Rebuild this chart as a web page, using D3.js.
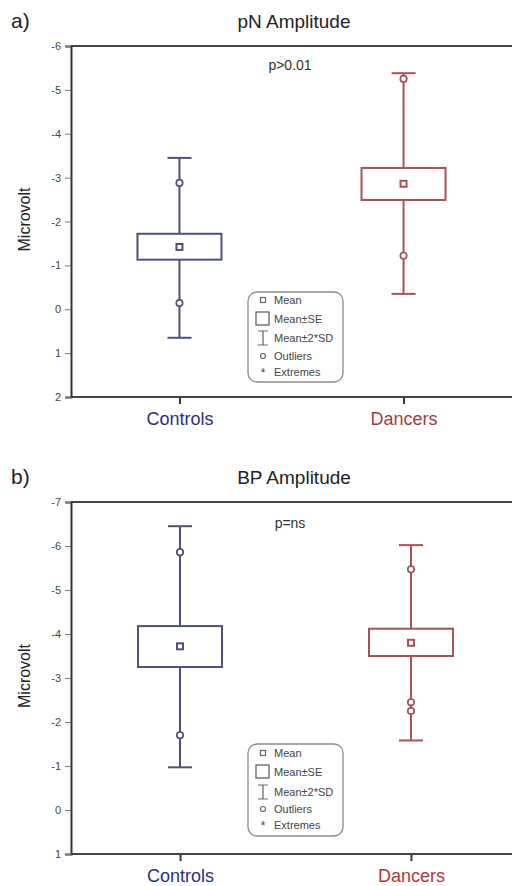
<!DOCTYPE html>
<html>
<head>
<meta charset="utf-8">
<script src="https://cdn.jsdelivr.net/npm/d3@7"></script>
<style>
  body { margin: 0; background: #fff; }
  svg { display: block; font-family: "Liberation Sans", Arial, sans-serif; }
</style>
</head>
<body>
<svg id="chart" width="512" height="886"></svg>
<script>
// Data
const categories = ["Controls", "Dancers"];

// pN amplitude (microvolt): mean, SE bounds, 2*SD bounds, outliers
const pnMean   = [-1.42, -2.86];
const pnSeLow  = [-1.13, -2.49];
const pnSeHigh = [-1.72, -3.22];
const pnSdLow  = [0.65, -0.35];
const pnSdHigh = [-3.45, -5.38];
const pnOutliers = [[-2.88, -0.14], [-5.25, -1.22]];
const pnTicks = [-6, -5, -4, -3, -2, -1, 0, 1, 2];

// BP amplitude (microvolt)
const bpMean   = [-3.72, -3.80];
const bpSeLow  = [-3.25, -3.50];
const bpSeHigh = [-4.18, -4.12];
const bpSdLow  = [-0.97, -1.58];
const bpSdHigh = [-6.45, -6.02];
const bpOutliers = [[-5.86, -1.70], [-5.47, -2.45, -2.25]];
const bpTicks = [-7, -6, -5, -4, -3, -2, -1, 0, 1];

const legendItems = ["Mean", "Mean\u00b1SE", "Mean\u00b12*SD", "Outliers", "Extremes"];

const lineColor = { Controls: "#4f5078", Dancers: "#a55454" };
const labelColor = { Controls: "#2b3080", Dancers: "#a43c3c" };

const svg = d3.select("#chart");

function drawPanel(opt) {
    const g = svg.append("g");
    const left = 71, right = 512;

    const y = d3.scaleLinear()
        .domain([opt.ticks[0], opt.ticks[opt.ticks.length - 1]])
        .range([opt.top, opt.bottom]);

    const x = d3.scalePoint()
        .domain(categories)
        .range([left, opt.xEnd])
        .padding(opt.xPad);

    // Panel letter and title
    g.append("text")
        .attr("x", 11).attr("y", opt.top - 18)
        .style("font-size", "21px").style("fill", "#222")
        .text(opt.letter);
    g.append("text")
        .attr("x", 294).attr("y", opt.top - 18)
        .attr("text-anchor", "middle")
        .style("font-size", "19px").style("fill", "#222")
        .text(opt.title);

    // Axes frame: top, bottom and left lines
    g.append("line")
        .attr("x1", left).attr("x2", right)
        .attr("y1", opt.top).attr("y2", opt.top)
        .style("stroke", "#444").style("stroke-width", 2);

    const yAxis = g.append("g")
        .attr("transform", `translate(${left},0)`)
        .call(d3.axisLeft(y).tickValues(opt.ticks).tickSize(6).tickPadding(4).tickFormat(d => String(d)));
    yAxis.select(".domain").style("stroke", "#333").style("stroke-width", 2);
    yAxis.selectAll(".tick line").style("stroke", "#777");
    yAxis.selectAll(".tick text")
        .style("font-size", "11px").style("fill", "#444")
        .style("font-family", "\"Liberation Sans\", Arial, sans-serif");

    const xAxis = g.append("g")
        .attr("transform", `translate(0,${opt.bottom})`)
        .call(d3.axisBottom(x).tickSize(7).tickPadding(8));
    xAxis.select(".domain").remove();
    xAxis.selectAll(".tick line").style("stroke", "#333").style("stroke-width", 2);
    xAxis.selectAll(".tick text")
        .style("font-size", "18px")
        .style("font-family", "\"Liberation Sans\", Arial, sans-serif")
        .style("fill", d => labelColor[d]);
    g.append("line")
        .attr("x1", left).attr("x2", right)
        .attr("y1", opt.bottom).attr("y2", opt.bottom)
        .style("stroke", "#444").style("stroke-width", 2);

    // Y label
    g.append("text")
        .attr("transform", "rotate(-90)")
        .attr("x", -(opt.top + opt.bottom) / 2 + 2)
        .attr("y", 30)
        .attr("text-anchor", "middle")
        .style("font-size", "16px").style("fill", "#222")
        .text("Microvolt");

    // p value
    g.append("text")
        .attr("x", 290).attr("y", y(opt.pAt))
        .attr("text-anchor", "middle")
        .style("font-size", "14px").style("fill", "#333")
        .text(opt.pText);

    const boxW = 84, capW = 24;
    const rows = categories.map((c, i) => ({
        cat: c, mean: opt.mean[i], seLow: opt.seLow[i], seHigh: opt.seHigh[i],
        sdLow: opt.sdLow[i], sdHigh: opt.sdHigh[i], outliers: opt.outliers[i]
    }));

    const grp = g.selectAll(".grp").data(rows).join("g").attr("class", "grp");

    // whisker line
    grp.append("line")
        .attr("x1", d => x(d.cat)).attr("x2", d => x(d.cat))
        .attr("y1", d => y(d.sdHigh)).attr("y2", d => y(d.sdLow))
        .style("stroke", d => lineColor[d.cat]).style("stroke-width", 2);
    // caps
    ["sdHigh", "sdLow"].forEach(k => {
        grp.append("line")
            .attr("x1", d => x(d.cat) - capW / 2).attr("x2", d => x(d.cat) + capW / 2)
            .attr("y1", d => y(d[k])).attr("y2", d => y(d[k]))
            .style("stroke", d => lineColor[d.cat]).style("stroke-width", 2);
    });
    // SE box
    grp.append("rect")
        .attr("x", d => x(d.cat) - boxW / 2)
        .attr("y", d => y(d.seHigh))
        .attr("width", boxW)
        .attr("height", d => y(d.seLow) - y(d.seHigh))
        .style("fill", "#fff")
        .style("stroke", d => lineColor[d.cat]).style("stroke-width", 2);
    // mean marker
    grp.append("rect")
        .attr("x", d => x(d.cat) - 3).attr("y", d => y(d.mean) - 3)
        .attr("width", 6).attr("height", 6)
        .style("fill", "#fff")
        .style("stroke", d => lineColor[d.cat]).style("stroke-width", 2);
    // outliers
    grp.selectAll(".out")
        .data(d => d.outliers.map(v => ({ cat: d.cat, v })))
        .join("circle")
        .attr("class", "out")
        .attr("cx", d => x(d.cat)).attr("cy", d => y(d.v))
        .attr("r", 3.2)
        .style("fill", "#fff")
        .style("stroke", d => lineColor[d.cat]).style("stroke-width", 1.7);

    // Legend
    const lg = g.append("g").attr("transform", `translate(248,${opt.legendTop})`);
    lg.append("rect")
        .attr("width", 95).attr("height", opt.legendH)
        .attr("rx", 9)
        .style("fill", "#fff").style("stroke", "#8a8a8a").style("stroke-width", 1.3);
    const rowY = opt.legendRows;
    const ix = 15;
    legendItems.forEach((t, i) => {
        lg.append("text")
            .attr("x", 26).attr("y", rowY[i] + 4)
            .style("font-size", "11px").style("fill", "#444")
            .text(t);
    });
    lg.append("rect").attr("x", ix - 2.5).attr("y", rowY[0] - 2.5).attr("width", 5).attr("height", 5)
        .style("fill", "none").style("stroke", "#666").style("stroke-width", 1.2);
    lg.append("rect").attr("x", ix - 7).attr("y", rowY[1] - 7).attr("width", 13).attr("height", 13)
        .style("fill", "none").style("stroke", "#555").style("stroke-width", 1.2);
    lg.append("path")
        .attr("d", `M${ix - 5},${rowY[2] - 7}H${ix + 5}M${ix},${rowY[2] - 7}V${rowY[2] + 7}M${ix - 5},${rowY[2] + 7}H${ix + 5}`)
        .style("fill", "none").style("stroke", "#666").style("stroke-width", 1.2);
    lg.append("circle").attr("cx", ix).attr("cy", rowY[3]).attr("r", 2.5)
        .style("fill", "none").style("stroke", "#666").style("stroke-width", 1.2);
    lg.append("text").attr("x", ix).attr("y", rowY[4] + 5)
        .attr("text-anchor", "middle")
        .style("font-size", "12px").style("fill", "#444")
        .text("*");
}

drawPanel({
    letter: "a)", title: "pN Amplitude", ticks: pnTicks,
    top: 46, bottom: 397, xEnd: 512, xPad: 0.484,
    mean: pnMean, seLow: pnSeLow, seHigh: pnSeHigh, sdLow: pnSdLow, sdHigh: pnSdHigh, outliers: pnOutliers,
    pText: "p>0.01", pAt: -5.45,
    legendTop: 292, legendH: 90, legendRows: [8, 27, 46, 64, 80]
});

drawPanel({
    letter: "b)", title: "BP Amplitude", ticks: bpTicks,
    top: 502, bottom: 854, xEnd: 520, xPad: 0.472,
    mean: bpMean, seLow: bpSeLow, seHigh: bpSeHigh, sdLow: bpSdLow, sdHigh: bpSdHigh, outliers: bpOutliers,
    pText: "p=ns", pAt: -6.4,
    legendTop: 744, legendH: 92, legendRows: [9, 28, 48, 65, 81]
});
</script>
</body>
</html>
